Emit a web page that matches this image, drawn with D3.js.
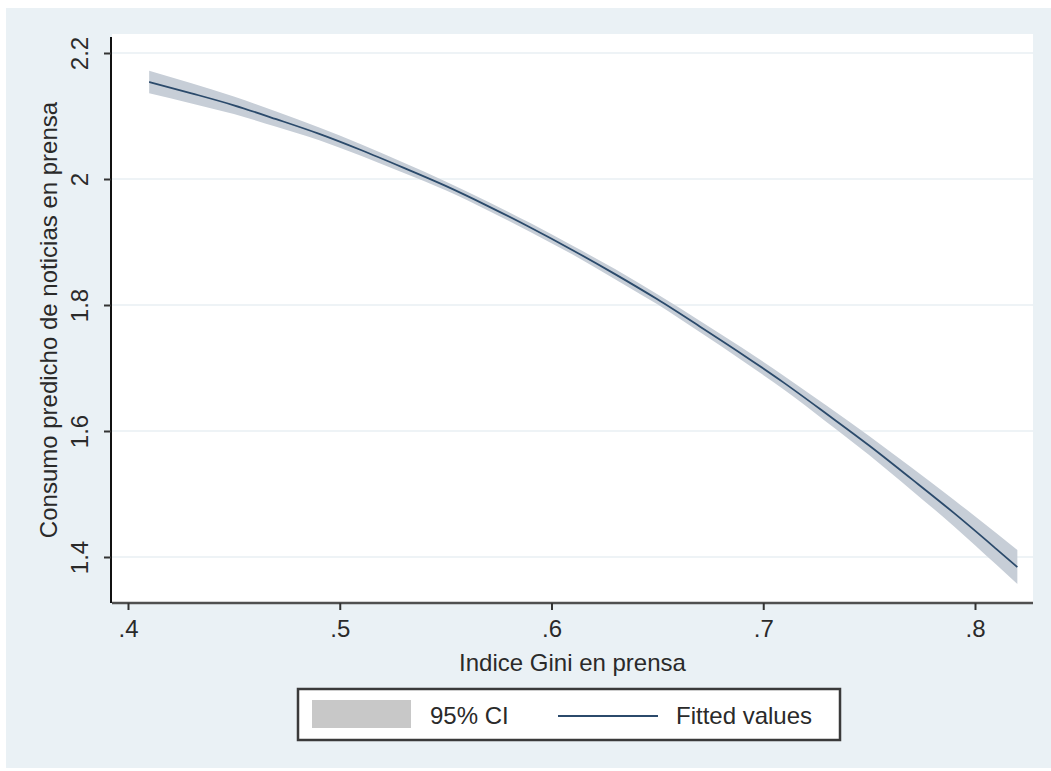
<!DOCTYPE html>
<html>
<head>
<meta charset="utf-8">
<script src="https://cdn.jsdelivr.net/npm/d3@7"></script>
<style>
  body { margin: 0; background: #fff; }
  svg text { font-family: "Liberation Sans", Arial, Helvetica, sans-serif; fill: #2a2a2a; }
</style>
</head>
<body>
<svg id="chart"></svg>
<script>
// values
const giniX = [0.41, 0.43, 0.45, 0.47, 0.49, 0.51, 0.53, 0.55, 0.57, 0.59, 0.61,
               0.63, 0.65, 0.67, 0.69, 0.71, 0.73, 0.75, 0.77, 0.79, 0.81, 0.82];
const fitted = [2.154, 2.136, 2.117, 2.095, 2.072, 2.046, 2.018, 1.989, 1.957, 1.923, 1.887,
                1.849, 1.809, 1.766, 1.722, 1.676, 1.627, 1.577, 1.524, 1.470, 1.413, 1.384];
const ciLow = [2.136, 2.120, 2.103, 2.083, 2.062, 2.037, 2.010, 1.982, 1.950, 1.916, 1.880,
               1.841, 1.801, 1.757, 1.712, 1.665, 1.614, 1.562, 1.506, 1.449, 1.388, 1.357];
const ciHigh = [2.172, 2.152, 2.131, 2.107, 2.082, 2.055, 2.026, 1.996, 1.964, 1.930, 1.894,
                1.857, 1.817, 1.775, 1.732, 1.687, 1.640, 1.592, 1.542, 1.491, 1.438, 1.411];
const xTicks = [0.4, 0.5, 0.6, 0.7, 0.8];
const xTickLabels = [".4", ".5", ".6", ".7", ".8"];
const yTicks = [1.4, 1.6, 1.8, 2.0, 2.2];
const yTickLabels = ["1.4", "1.6", "1.8", "2", "2.2"];
const legendLabels = ["95% CI", "Fitted values"];

const width = 1051, height = 771;
const fontSize = 24;

const svg = d3.select('#chart')
  .attr('width', width)
  .attr('height', height);

// outer graph region
svg.append('rect')
  .attr('x', 6).attr('y', 8)
  .attr('width', width - 6).attr('height', 760)
  .attr('fill', '#eaf1f5');

// plot region
const plot = { left: 112, right: 1033, top: 34, bottom: 603 };
svg.append('rect')
  .attr('x', plot.left).attr('y', plot.top)
  .attr('width', plot.right - plot.left).attr('height', plot.bottom - plot.top)
  .attr('fill', '#ffffff');

const x = d3.scaleLinear().domain([0.4, 0.8]).range([128, 975]);
const y = d3.scaleLinear().domain([1.4, 2.2]).range([557, 53]);

// grid lines
svg.append('g')
  .selectAll('line')
  .data(yTicks)
  .enter()
  .append('line')
  .attr('x1', plot.left).attr('x2', plot.right)
  .attr('y1', d => y(d)).attr('y2', d => y(d))
  .attr('stroke', '#e9eff3')
  .attr('stroke-width', 1.5);

const pts = giniX.map((g, i) => ({ g, fit: fitted[i], lo: ciLow[i], hi: ciHigh[i] }));

// confidence band
svg.append('path')
  .datum(pts)
  .attr('d', d3.area()
    .x(d => x(d.g))
    .y0(d => y(d.lo))
    .y1(d => y(d.hi))
    .curve(d3.curveMonotoneX))
  .attr('fill', '#c7ced7');

// fitted line
svg.append('path')
  .datum(pts)
  .attr('d', d3.line()
    .x(d => x(d.g))
    .y(d => y(d.fit))
    .curve(d3.curveMonotoneX))
  .attr('fill', 'none')
  .attr('stroke', '#2b4a6b')
  .attr('stroke-width', 1.8);

// x axis
const xAxis = svg.append('g')
  .attr('transform', `translate(0,${plot.bottom})`)
  .call(d3.axisBottom(x)
    .tickValues(xTicks)
    .tickFormat((d, i) => xTickLabels[i])
    .tickSize(7)
    .tickPadding(10)
    .tickSizeOuter(0));
xAxis.select('.domain')
  .attr('d', `M${plot.left},0H${plot.right}`)
  .attr('stroke', '#505050')
  .attr('stroke-width', 2.5);
xAxis.selectAll('.tick line').attr('stroke', '#333').attr('stroke-width', 2);
xAxis.selectAll('.tick text')
  .style('font-size', fontSize + 'px')
  .attr('fill', '#2a2a2a');

// y axis
const yAxis = svg.append('g')
  .attr('transform', `translate(${plot.left - 1},0)`)
  .call(d3.axisLeft(y)
    .tickValues(yTicks)
    .tickFormat((d, i) => yTickLabels[i])
    .tickSize(7)
    .tickSizeOuter(0));
yAxis.select('.domain')
  .attr('d', `M0,37V${plot.bottom}`)
  .attr('stroke', '#111')
  .attr('stroke-width', 2);
yAxis.selectAll('.tick line').attr('stroke', '#333').attr('stroke-width', 2);
yAxis.selectAll('.tick text')
  .attr('x', null).attr('dy', null)
  .attr('transform', 'translate(-23,0) rotate(-90)')
  .attr('text-anchor', 'middle')
  .style('font-size', fontSize + 'px')
  .attr('fill', '#2a2a2a');

// axis titles
svg.append('text')
  .attr('transform', `translate(57,${(37 + plot.bottom) / 2}) rotate(-90)`)
  .attr('text-anchor', 'middle')
  .style('font-size', fontSize + 'px')
  .text('Consumo predicho de noticias en prensa');

svg.append('text')
  .attr('x', (plot.left + plot.right) / 2)
  .attr('y', 671)
  .attr('text-anchor', 'middle')
  .style('font-size', fontSize + 'px')
  .text('Indice Gini en prensa');

// legend
const legend = svg.append('g');
legend.append('rect')
  .attr('x', 298).attr('y', 689)
  .attr('width', 542).attr('height', 51)
  .attr('fill', '#fff')
  .attr('stroke', '#3a3a3a')
  .attr('stroke-width', 2.5);
legend.append('rect')
  .attr('x', 312).attr('y', 700)
  .attr('width', 99).attr('height', 28)
  .attr('fill', '#c8c8c8');
legend.append('text')
  .attr('x', 430).attr('y', 724)
  .style('font-size', fontSize + 'px')
  .text(legendLabels[0]);
legend.append('line')
  .attr('x1', 558).attr('x2', 658)
  .attr('y1', 716).attr('y2', 716)
  .attr('stroke', '#2b4a6b')
  .attr('stroke-width', 1.8);
legend.append('text')
  .attr('x', 676).attr('y', 724)
  .style('font-size', fontSize + 'px')
  .text(legendLabels[1]);
</script>
</body>
</html>
